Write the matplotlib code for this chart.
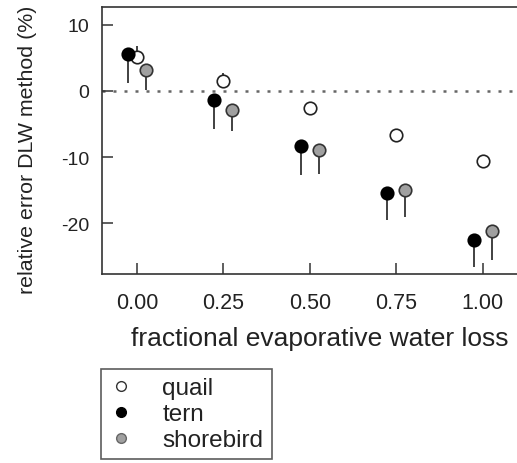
import numpy as np
import matplotlib.pyplot as plt

plt.rcParams['font.family'] = ['Liberation Sans', 'DejaVu Sans']
plt.rcParams['axes.unicode_minus'] = False

# fractional evaporative water loss
x = np.array([0.0, 0.25, 0.5, 0.75, 1.0])
xticklabels = ['0.00', '0.25', '0.50', '0.75', '1.00']

# relative error (%) per species, plus the end of the one-sided stem
quail = np.array([5.2, 1.5, -2.6, -6.6, -10.6])
quail_top = np.array([6.8, 2.7, -2.6, -6.6, -10.6])
tern = np.array([5.6, -1.3, -8.4, -15.5, -22.5])
tern_low = np.array([1.2, -5.8, -12.7, -19.6, -26.6])
shore = np.array([3.2, -2.9, -8.9, -15.0, -21.2])
shore_low = np.array([0.2, -6.1, -12.5, -19.0, -25.6])

fig = plt.figure(figsize=(5.17, 4.64), dpi=100)
ax = fig.add_axes([102/517, 1 - 275/464, 417/517, 267/464])

dx = 0.026
ax.axhline(0, color='#666666', ls=(0, (1.2, 3.2)), lw=1.8, zorder=1)

stem = dict(fmt='none', ecolor='#333333', elinewidth=1.3, capsize=0, zorder=2)
ax.errorbar(x, quail, yerr=[np.zeros(5), quail_top - quail], **stem)
ax.errorbar(x - dx, tern, yerr=[tern - tern_low, np.zeros(5)], **stem)
ax.errorbar(x + dx, shore, yerr=[shore - shore_low, np.zeros(5)], **stem)

ms = 9
ax.plot(x, quail, 'o', ms=ms, mfc='white', mec='#222222', mew=1.2, ls='none', zorder=3)
ax.plot(x - dx, tern, 'o', ms=ms, mfc='black', mec='black', mew=1.2, ls='none', zorder=3)
ax.plot(x + dx, shore, 'o', ms=ms, mfc='#a0a0a0', mec='#333333', mew=1.2, ls='none', zorder=3)

ax.set_xlim(-0.101, 1.105)
ax.set_ylim(-27.7, 12.7)
ax.set_xticks(x)
ax.set_xticklabels(xticklabels)
ax.set_yticks([-20, -10, 0, 10])
ax.tick_params(direction='in', length=8, width=1.1, color='#333333',
               labelsize=14, labelcolor='#222222', pad=9)
ax.tick_params(axis='x', labelsize=15.5, pad=13)
ax.spines['right'].set_visible(False)
for s in ['left', 'bottom', 'top']:
    ax.spines[s].set_linewidth(1.2)
    ax.spines[s].set_color('#333333')

ax.set_xlabel('fractional evaporative water loss', fontsize=19, labelpad=9,
              color='#222222')
ax.xaxis.label.set_x(0.523)
ax.set_ylabel('relative error DLW method (%)', fontsize=15.4, color='#222222')
ax.yaxis.set_label_coords(-0.155, 0.468)

h1, = ax.plot([], [], 'o', ms=7, mfc='white', mec='#333333', mew=1)
h2, = ax.plot([], [], 'o', ms=7, mfc='black', mec='black', mew=1)
h3, = ax.plot([], [], 'o', ms=7, mfc='#a0a0a0', mec='#666666', mew=1)
leg = fig.legend([h1, h2, h3], ['quail', 'tern', 'shorebird'], loc='upper left',
                 bbox_to_anchor=(101/517, 1 - 370/464), fontsize=17.5,
                 frameon=True, fancybox=False, edgecolor='#333333',
                 handlelength=1.0, handletextpad=1.2, labelspacing=0.17,
                 borderpad=0.33, borderaxespad=0)
leg.get_frame().set_linewidth(1.2)
for t in leg.get_texts():
    t.set_color('#222222')

fig.savefig('out.png', dpi=100)
